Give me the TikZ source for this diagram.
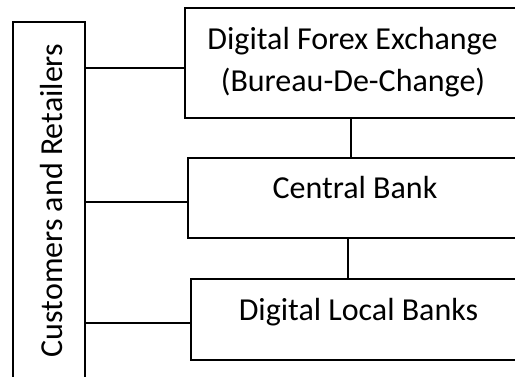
\documentclass[tikz,border=0pt]{standalone}
\usepackage{fontspec}
\setmainfont{Carlito}
\begin{document}
\begin{tikzpicture}[x=1pt,y=-1pt,
  frame/.style={rectangle,inner sep=0pt},
  outline/.style={line width=1.6pt},
  label/.style={font=\fontsize{32}{38}\selectfont,inner sep=0pt,anchor=base},
  link/.style={line width=1.6pt}]
  \useasboundingbox (0,0) rectangle (515,376);
  % box areas; the boxes run on past the right and bottom edges
  \node[frame,minimum width=72pt,minimum height=356pt] (cust) at (49,200) {};
  \node[frame,minimum width=332pt,minimum height=110pt] (fx) at (351,63) {};
  \node[frame,minimum width=329pt,minimum height=80pt] (cb) at (352.5,198) {};
  \node[frame,minimum width=326pt,minimum height=81pt] (lb) at (354,319.5) {};
  % open outlines
  \draw[outline] (cust.south west) -- (cust.north west) -- (cust.north east) -- (cust.south east);
  \draw[outline] (fx.north east) -- (fx.north west) -- (fx.south west) -- (fx.south east);
  \draw[outline] (cb.north east) -- (cb.north west) -- (cb.south west) -- (cb.south east);
  \draw[outline] (lb.north east) -- (lb.north west) -- (lb.south west) -- (lb.south east);
  % texts
  \node[label,rotate=90] (custt) at (63,200.5) {Customers and Retailers};
  \node[label] (fxa) at (352.5,49) {Digital Forex Exchange};
  \node[label] (fxb) at (353,91) {(Bureau-De-Change)};
  \node[label] (cbt) at (355,198) {Central Bank};
  \node[label] (lbt) at (358.5,320) {Digital Local Banks};
  % connectors
  \draw[link] ([yshift=-5pt]fx.west) -- ([yshift=-5pt]fx.west -| cust.east);
  \draw[link] ([yshift=-4pt]cb.west) -- ([yshift=-4pt]cb.west -| cust.east);
  \draw[link] ([yshift=-3.5pt]lb.west) -- ([yshift=-3.5pt]lb.west -| cust.east);
  \draw[link] ([xshift=-1.5pt]fxa.base |- fx.south) -- ([xshift=-1.5pt]fxa.base |- cb.north);
  \draw[link] ([xshift=-7pt]cbt.base |- cb.south) -- ([xshift=-7pt]cbt.base |- lb.north);
\end{tikzpicture}
\end{document}
